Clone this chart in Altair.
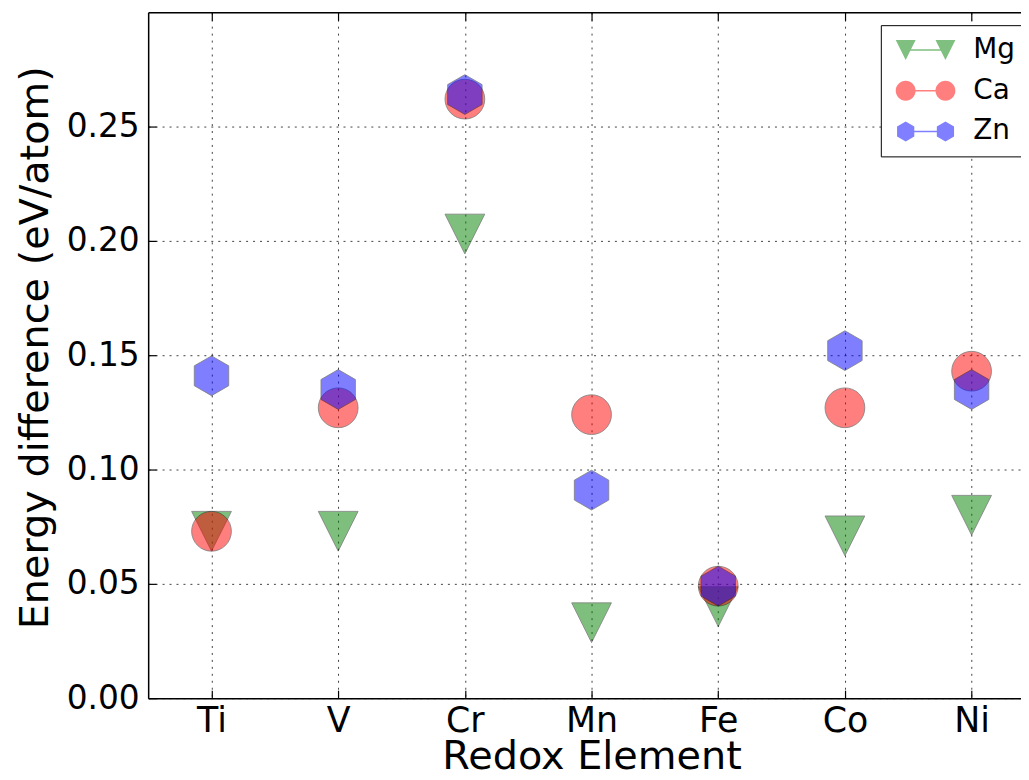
import altair as alt
import pandas as pd

# ---- data ----
elements = ["Ti", "V", "Cr", "Mn", "Fe", "Co", "Ni"]
mg = [0.073, 0.073, 0.203, 0.033, 0.040, 0.071, 0.080]
ca = [0.073, 0.127, 0.262, 0.124, 0.049, 0.127, 0.143]
zn = [0.141, 0.135, 0.264, 0.091, 0.049, 0.152, 0.135]
series = ["Mg", "Ca", "Zn"]
colors = ["#008000", "#ff0000", "#0000ff"]
y_ticks = [0.0, 0.05, 0.10, 0.15, 0.20, 0.25]

FONT = "DejaVu Sans"
W, H = 878, 690

# marker shapes (unit paths)
TRI = "M-1,-1L1,-1L0,1Z"
HEX = "M0,-1L0.866,-0.5L0.866,0.5L0,1L-0.866,0.5L-0.866,-0.5Z"
LINE = "M0,-0.075L4,-0.075L4,0.075L0,0.075Z"
TRI_L = TRI + " M3,-1L5,-1L4,1Z " + LINE
CIRC_L = "M-1,0A1,1,0,1,1,1,0A1,1,0,1,1,-1,0Z M3,0A1,1,0,1,1,5,0A1,1,0,1,1,3,0Z " + LINE
HEX_L = HEX + " M4,-1L4.866,-0.5L4.866,0.5L4,1L3.134,0.5L3.134,-0.5Z " + LINE
shapes = [TRI, "circle", HEX]
legend_shapes = [TRI_L, CIRC_L, HEX_L]

df = pd.DataFrame({
    "xi": list(range(len(elements))) * 3,
    "value": mg + ca + zn,
    "series": [s for s in series for _ in elements],
})

x_scale = alt.Scale(domain=[-0.5, 6.39], nice=False, zero=False)
y_scale = alt.Scale(domain=[0, 0.3], nice=False, zero=False)
label_expr = "[" + ",".join(f"'{e}'" for e in elements) + "][datum.value]"
x_vals = list(range(len(elements)))

grid_kw = dict(grid=True, gridColor="black", gridDash=[2, 5], gridOpacity=0.75, gridWidth=1)
tick_kw = dict(ticks=True, tickSize=8, tickColor="black", tickWidth=1.2, labels=False,
               grid=False)

base = alt.Chart(df)


def pts(i, xaxis, yaxis):
    return base.transform_filter(alt.datum.series == series[i]).mark_point(
        shape=shapes[i], filled=True, fill=colors[i], stroke="black",
        strokeWidth=0.8, opacity=0.5, size=1600
    ).encode(
        x=alt.X("xi:Q", scale=x_scale, axis=xaxis, title=None),
        y=alt.Y("value:Q", scale=y_scale, axis=yaxis, title=None),
    )


main_x = alt.Axis(orient="bottom", values=x_vals, labelExpr=label_expr, ticks=False,
                  tickSize=0, domain=True, domainColor="black", domainWidth=1.5,
                  labelFont=FONT, labelFontSize=35, labelPadding=6, labelColor="black",
                  labelFlush=False, title="Redox Element", titleFont=FONT,
                  titleFontSize=40, titleFontWeight="normal", titleColor="black",
                  titleX=446, titleY=71, titleBaseline="alphabetic", titleAlign="center",
                  **grid_kw)
main_y = alt.Axis(orient="left", values=y_ticks, format=".2f", ticks=False, tickSize=0,
                  domain=True, domainColor="black", domainWidth=1.5,
                  labelFont=FONT, labelFontSize=33, labelPadding=9, labelColor="black",
                  labelFlush=False, title="Energy difference (eV/atom)", titleFont=FONT,
                  titleFontSize=40, titleFontWeight="normal", titleColor="black",
                  titleAngle=270, titleX=-101, titleY=337, titleAlign="center",
                  titleBaseline="alphabetic", **grid_kw)

layer_mg = pts(0, main_x, main_y).encode(
    x=alt.X("xi:Q", scale=x_scale, axis=main_x),
    y=alt.Y("value:Q", scale=y_scale, axis=main_y),
)

layer_ca = pts(
    1,
    alt.Axis(orient="top", offset=-H, values=x_vals, domain=False, **tick_kw),
    alt.Axis(orient="right", offset=-W, values=y_ticks, domain=False, **tick_kw),
)
layer_zn = pts(
    2,
    alt.Axis(orient="bottom", offset=-H, values=x_vals, domain=True, domainColor="black",
             domainWidth=1.5, **tick_kw),
    None,
)

legend_layer = base.transform_filter("false").mark_point(filled=True, opacity=0.5).encode(
    x=alt.X("xi:Q", scale=x_scale, axis=None),
    y=alt.Y("value:Q", scale=y_scale, axis=None),
    color=alt.Color("series:N", scale=alt.Scale(domain=series, range=colors),
                    legend=alt.Legend(orient="none", legendX=737, legendY=13, title=None,
                                      padding=11, strokeColor="black", fillColor="white",
                                      cornerRadius=0, labelFont=FONT, labelFontSize=28,
                                      labelColor="black", labelOffset=54, rowPadding=13,
                                      symbolSize=400, symbolStrokeWidth=0,
                                      labelLimit=200)),
    shape=alt.Shape("series:N", scale=alt.Scale(domain=series, range=legend_shapes)),
)

chart = alt.layer(layer_mg, layer_ca, layer_zn, legend_layer).resolve_axis(
    x="independent", y="independent"
).properties(
    width=W, height=H,
    autosize=alt.AutoSizeParams(type="none"),
    padding={"left": 141, "top": 2, "right": 0, "bottom": 72},
).configure_view(stroke="transparent").configure_legend(
    strokeWidth=1.5
).configure(background="white")

chart.save("out.html", embed_options={"renderer": "svg", "actions": False})
